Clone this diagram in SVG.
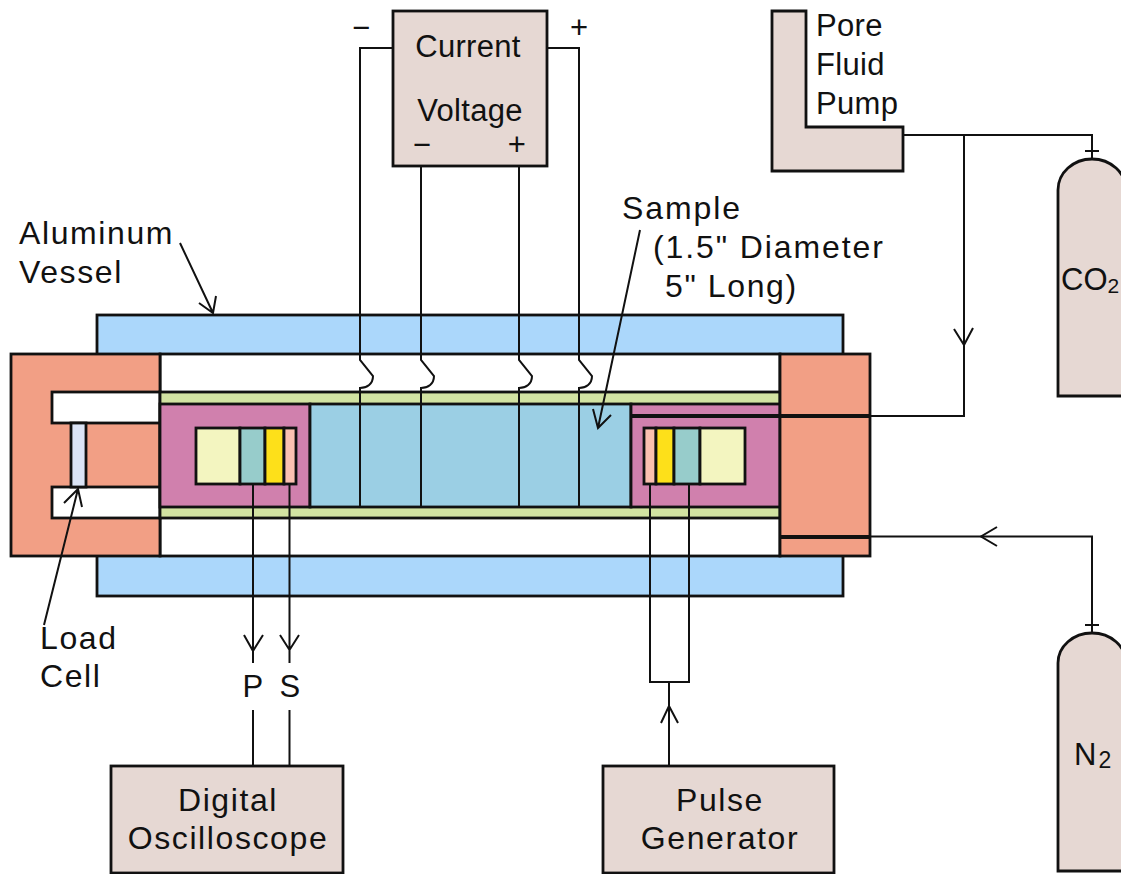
<svg xmlns="http://www.w3.org/2000/svg" width="1121" height="874" viewBox="0 0 1121 874">
<style>
text{font-family:"Liberation Sans",Arial,sans-serif;font-size:31px;fill:#111;letter-spacing:.3px}
.w{font-size:32px;letter-spacing:1.6px}
.x{font-size:32px;letter-spacing:1.9px}
.m{text-anchor:middle}
.s{stroke:#111;stroke-width:2.8}
.t{stroke:#111;stroke-width:2;fill:none}
.tan{fill:#e6d8d3}
.or{fill:#f29f85}
.bl{fill:#abd7fb}
.wh{fill:#fff}
.gr{fill:#d2e3a2}
.pk{fill:#d080ad}
.sm{fill:#9bcfe4}
.ye{fill:#f3f5c0}
.te{fill:#97cccb}
.go{fill:#fde01a}
.sa{fill:#fbc0b0}
</style>
<rect width="1121" height="874" fill="#fff"/>
<g id="vessel">
<rect class="bl s" x="97" y="315" width="746" height="281"/>
<rect class="wh s" x="160" y="354" width="620" height="202"/>
</g>
<g id="left-end-cap">
<rect class="or s" x="11" y="354" width="149" height="202"/>
<rect class="wh s" x="52" y="392" width="108" height="31"/>
<rect class="wh s" x="52" y="487" width="108" height="31"/>
</g>
<g id="load-cell-body"><rect x="71" y="423" width="15" height="64" fill="#dbe4f6" class="s"/></g>
<g id="jacket">
<rect class="gr s" x="160" y="392" width="620" height="126"/>
</g>
<g id="left-platen"><rect class="pk s" x="160" y="404" width="150" height="103"/></g>
<g id="sample"><rect class="sm s" x="310" y="404" width="321" height="103"/></g>
<g id="right-platen"><rect class="pk s" x="631" y="404" width="149" height="103"/></g>
<g id="left-transducer">
<rect class="ye s" x="196" y="428" width="44" height="56"/>
<rect class="te s" x="240" y="428" width="25" height="56"/>
<rect class="go s" x="265" y="428" width="19" height="56"/>
<rect class="sa s" x="284" y="428" width="12" height="56"/>
</g>
<g id="right-transducer">
<rect class="sa s" x="644" y="428" width="12" height="56"/>
<rect class="go s" x="656" y="428" width="18" height="56"/>
<rect class="te s" x="674" y="428" width="26" height="56"/>
<rect class="ye s" x="700" y="428" width="45" height="56"/>
</g>
<g id="right-end-cap"><rect class="or s" x="780" y="354" width="90" height="202"/></g>
<g id="current-voltage">
<rect class="tan s" x="393" y="11" width="154" height="155"/>
<text class="m" x="468" y="57">Current</text>
<text class="m" x="470" y="121">Voltage</text>
<text class="m" x="422" y="155">−</text>
<text class="m" x="517" y="155">+</text>
</g>
<g id="pore-fluid-pump">
<path class="tan s" d="M772 11H806V127H903V171H772Z"/>
<text x="816" y="36">Pore</text>
<text x="816" y="75">Fluid</text>
<text x="816" y="114">Pump</text>
</g>
<g id="co2-tank">
<path class="tan s" d="M1058 396V190A34 31 0 0 1 1126 190V396Z"/>
<text x="1061" y="290" style="letter-spacing:0">CO<tspan font-size="21" dy="3">2</tspan></text>
</g>
<g id="n2-tank">
<path class="tan s" d="M1058 871V663A34 30 0 0 1 1126 663V871Z"/>
<text x="1074" y="765" style="letter-spacing:2px">N<tspan font-size="23" dy="3">2</tspan></text>
</g>
<g id="digital-oscilloscope">
<rect class="tan s" x="111" y="766" width="232" height="107"/>
<text class="m w" x="228" y="811">Digital</text>
<text class="m w" x="228" y="849">Oscilloscope</text>
</g>
<g id="pulse-generator">
<rect class="tan s" x="603" y="766" width="231" height="107"/>
<text class="m w" x="720" y="811">Pulse</text>
<text class="m w" x="720" y="849">Generator</text>
</g>
<g id="connectors">
<path class="t" d="M393 48H360V360L373 376C373 384 367 388 360 388V507"/>
<path class="t" d="M547 48H579V360L592 376C592 384 586 388 579 388V507"/>
<path class="t" d="M421 166V360L434 376C434 384 428 388 421 388V507"/>
<path class="t" d="M519 166V360L532 376C532 384 526 388 519 388V507"/>
<path class="t" d="M903 135H1092V159M1085 151H1099"/>
<path class="t" d="M964 135V416H870"/>
<path class="t" d="M954 329L964 345L973 328"/>
<path stroke="#111" stroke-width="4" fill="none" d="M632 416H870M780 537H870"/>
<path class="t" d="M870 536.500H1092V633M1085 625H1099"/>
<path class="t" d="M997 527L981 536.500L997 546"/>
<path class="t" d="M253 484V663M244 635L253 651L263 635"/>
<path class="t" d="M289.500 484V663M280 635L289.500 650L299 635"/>
<path class="t" d="M253 710V766M289.500 710V766"/>
<path class="t" d="M650 484V682H689V484"/>
<path class="t" d="M669 766V682M661 723L669 706L678 723"/>
<path class="t" d="M180 243L213 313M199 303L213 313L216 296"/>
<path class="t" d="M44 625L78 489M64 503L78 489L82 507"/>
<path class="t" d="M640 230L598 428M593 409L598 428L611 415"/>
</g>
<g id="labels">
<text x="352" y="38">−</text>
<text x="570" y="38">+</text>
<text class="w" x="19" y="244">Aluminum</text>
<text class="w" x="19" y="283">Vessel</text>
<text class="x" x="622" y="219">Sample</text>
<text class="x" x="653" y="258">(1.5" Diameter</text>
<text class="w" x="665" y="297">5" Long)</text>
<text class="w" x="40" y="649">Load</text>
<text class="w" x="40" y="687">Cell</text>
<text class="m" x="253" y="697">P</text>
<text class="m" x="290" y="697">S</text>
</g>
</svg>
